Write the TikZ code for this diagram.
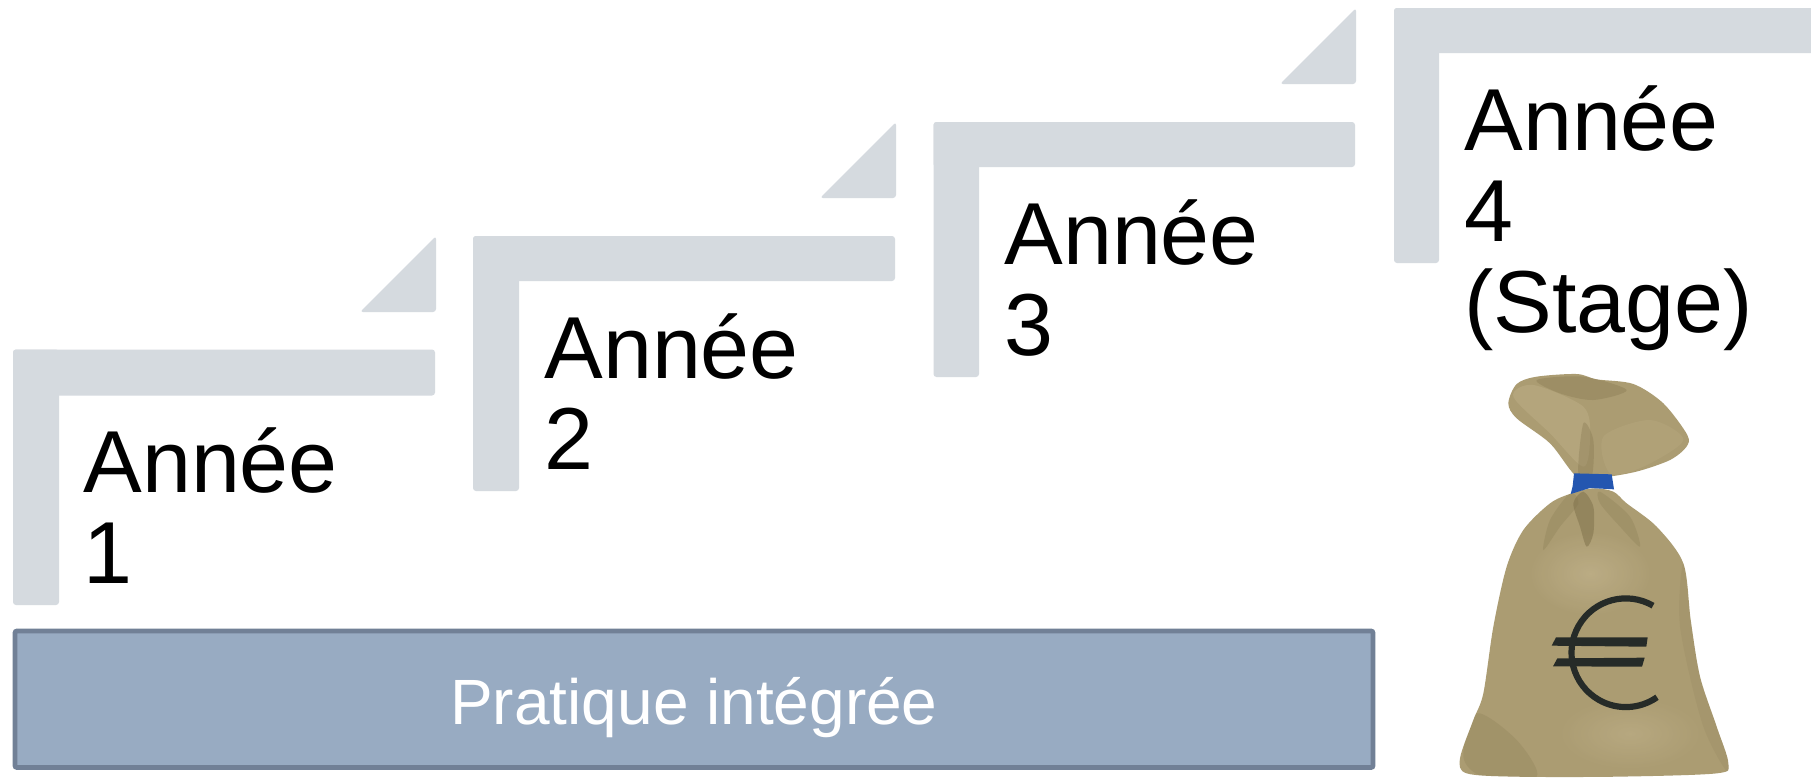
\documentclass[tikz,border=0pt]{standalone}
\usepackage{fontspec}
\setmainfont{Liberation Sans}
\definecolor{stepgrey}{HTML}{D5DADF}
\definecolor{barfill}{HTML}{98ABC2}
\definecolor{barline}{HTML}{718096}
\definecolor{sack}{HTML}{AB9C72}
\definecolor{sackdark}{HTML}{7D6F49}
\definecolor{sacklight}{HTML}{BFB089}
\definecolor{ribbon}{HTML}{2456B0}
\definecolor{euroink}{HTML}{262B28}
\tikzset{
  x=0.5pt,y=-0.5pt,
  stairshape/.style={fill=stepgrey,draw=none,rounded corners=1.5pt},
  yeartext/.style={anchor=base west,inner sep=0pt,font=\fontsize{44}{45.5}\selectfont,text=black},
  barbox/.style={fill=barfill,draw=barline,line width=2.4pt,rounded corners=1pt},
  bartext/.style={anchor=base,inner sep=0pt,font=\fontsize{32}{36}\selectfont,text=white},
  euroline/.style={draw=euroink,line width=3.1pt},
  eurobar/.style={fill=euroink,draw=none},
}
\newcommand{\yearlines}[1]{\begin{tabular}[t]{@{}l@{}}#1\end{tabular}}
\begin{document}
\begin{tikzpicture}
\useasboundingbox (0,0) rectangle (1811,778);
\fill[white] (0,0) rectangle (1811,778);

% stairs
\fill[stairshape] (13,349.5) rectangle (435,395.5);
\fill[stairshape] (13,349.5) rectangle (59,605);
\fill[stairshape] (436,236) -- (436,312) -- (360,312) -- cycle;
\fill[stairshape] (473,236) rectangle (895,281);
\fill[stairshape] (473,236) rectangle (519,491);
\fill[stairshape] (896,122) -- (896,198) -- (820,198) -- cycle;
\fill[stairshape] (933.5,122) rectangle (1355,167);
\fill[stairshape] (933.5,122) rectangle (979,377);
\fill[stairshape] (1356,8) -- (1356,84) -- (1280,84) -- cycle;
\fill[stairshape] (1394,8) rectangle (1830,53);
\fill[stairshape] (1394,8) rectangle (1439,263);

\node[yeartext] (y1) at (83,492) {\yearlines{Année\\1}};
\node[yeartext] (y2) at (544,378) {\yearlines{Année\\2}};
\node[yeartext] (y3) at (1004,264) {\yearlines{Année\\3}};
\node[yeartext] (y4) at (1464,150) {\yearlines{Année\\4\\(Stage)}};

% bar
\draw[barbox] (15,631) rectangle (1373,767.5);
\node[bartext] (pratique) at (694,724) {Pratique intégrée};

% money bag (coordinates measured in a 3x crop)
\begin{scope}[shift={(1250,360)},x=0.16667pt,y=-0.16667pt]
  % head
  \path[fill=sack,draw=none,smooth cycle,tension=0.5] plot coordinates {
    (975,345) (900,250) (800,175) (775,130) (800,72) (860,50) (980,42) (1040,58)
    (1150,72) (1240,130) (1312,225) (1308,262) (1260,300) (1170,332) (1090,348) (1030,352)};
  \begin{scope}
    \clip plot[smooth cycle,tension=0.5] coordinates {
      (975,345) (900,250) (800,175) (775,130) (800,72) (860,50) (980,42) (1040,58)
      (1150,72) (1240,130) (1312,225) (1308,262) (1260,300) (1170,332) (1090,348) (1030,352)};
    \fill[sacklight,opacity=.45] plot[smooth cycle] coordinates {(790,110) (850,75) (1000,140) (1020,230) (1000,320) (900,220)};
    \fill[sackdark,opacity=.3] plot[smooth cycle] coordinates {(860,60) (1000,50) (1130,90) (1030,120) (930,100)};
    \fill[sackdark,opacity=.3] plot[smooth cycle] coordinates {(1000,190) (1030,240) (1025,350) (985,340)};
    \fill[sacklight,opacity=.25] plot[smooth cycle] coordinates {(1060,230) (1200,180) (1300,240) (1180,320) (1080,340)};
  \end{scope}
  % body
  \path[fill=sack,draw=none,smooth cycle,tension=0.5] plot coordinates {
    (1030,385) (1090,395) (1130,430) (1220,500) (1300,610) (1322,780) (1350,950)
    (1400,1100) (1435,1210) (1400,1240) (1100,1250) (800,1250) (650,1240)
    (630,1195) (670,1080) (700,1000) (730,800) (770,620) (820,510) (900,430) (965,400)};
  \begin{scope}
    \clip plot[smooth cycle,tension=0.5] coordinates {
      (1030,385) (1090,395) (1130,430) (1220,500) (1300,610) (1322,780) (1350,950)
      (1400,1100) (1435,1210) (1400,1240) (1100,1250) (800,1250) (650,1240)
      (630,1195) (670,1080) (700,1000) (730,800) (770,620) (820,510) (900,430) (965,400)};
    \shade[inner color=sacklight,outer color=sack,opacity=.8] (1020,640) ellipse [x radius=190,y radius=130];
    \shade[inner color=sacklight,outer color=sack,opacity=.6] (1140,1120) ellipse [x radius=220,y radius=110];
    \fill[sackdark,opacity=.5] plot[smooth cycle] coordinates {(1000,395) (1030,440) (1030,520) (1010,560) (990,500) (970,430)};
    \fill[sackdark,opacity=.22] plot[smooth cycle] coordinates {(960,400) (900,480) (880,570) (930,500) (985,430)};
    \fill[sackdark,opacity=.22] plot[smooth cycle] coordinates {(1050,395) (1140,470) (1170,560) (1110,500) (1050,430)};
    \fill[sackdark,opacity=.2] plot[smooth cycle] coordinates {(680,1060) (800,1140) (860,1250) (700,1250) (640,1190)};
    \fill[sackdark,opacity=.12] plot[smooth cycle] coordinates {(1300,610) (1330,800) (1440,1230) (1360,1100) (1290,800)};
  \end{scope}
  % cord
  \fill[ribbon] (972,340) -- (1085,343) -- (1092,388) -- (1020,384) -- (962,402) -- (968,378) -- cycle;
  % euro
  \draw[euroline] (1209,737) arc[start angle=-60,end angle=-305,radius=163];
  \fill[eurobar] (905,857) -- (918,832) -- (1193,832) -- (1189,860) -- cycle;
  \fill[eurobar] (909,919) -- (922,895) -- (1184,893) -- (1176,920) -- cycle;
\end{scope}
\end{tikzpicture}
\end{document}
